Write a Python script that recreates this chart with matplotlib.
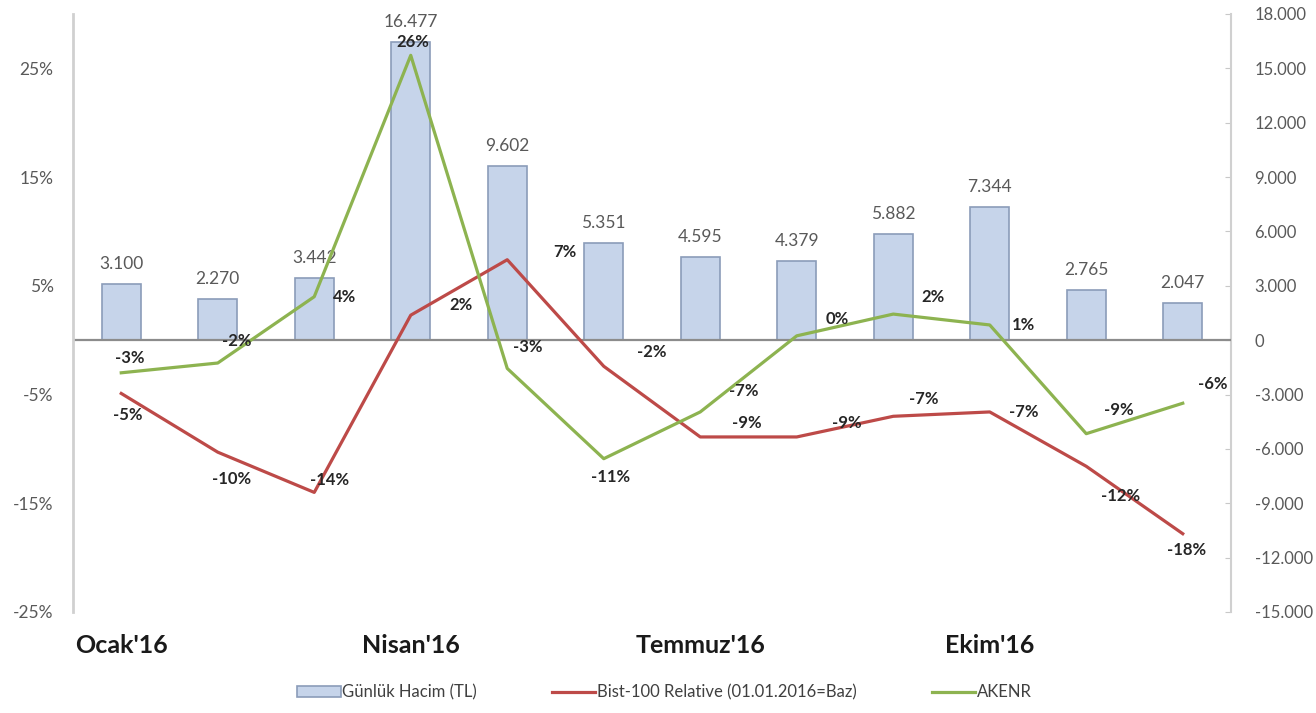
import matplotlib.pyplot as plt
from matplotlib.ticker import FuncFormatter

plt.rcParams['font.family'] = ['Lato', 'DejaVu Sans']

months = ['Ocak', 'Şubat', 'Mart', 'Nisan', 'Mayıs', 'Haziran',
          'Temmuz', 'Ağustos', 'Eylül', 'Ekim', 'Kasım', 'Aralık']
month_ticks = [0, 3, 6, 9]
month_tick_labels = ["Ocak'16", "Nisan'16", "Temmuz'16", "Ekim'16"]

volume = [3100, 2270, 3442, 16477, 9602, 5351, 4595, 4379, 5882, 7344, 2765, 2047]
bist_rel = [-4.9, -10.3, -14.0, 2.3, 7.4, -2.4, -8.9, -8.9, -7.0, -6.6, -11.6, -17.8]
akenr = [-3.0, -2.1, 4.0, 26.2, -2.6, -10.9, -6.6, 0.4, 2.4, 1.4, -8.6, -5.8]

pct_ticks = [25, 15, 5, -5, -15, -25]
vol_ticks = list(range(-15000, 18001, 3000))

# label offsets in pixels (dx, dy up)
akenr_off = [(8, 15), (19, 22), (30, 0), (2, 13), (21, 21), (7, -18),
             (43, 21), (41, 17), (40, 17), (34, 0), (33, 24), (30, 19)]
bist_off = [(7, -22), (14, -27), (15, 12), (50, 10), (58, 8), (48, 14),
            (47, 14), (50, 14), (30, 17), (34, 0), (34, -30), (4, -16)]

bar_face = '#c6d4ea'
bar_edge = '#8b9cb9'
red = '#bd4a48'
green = '#8db350'
grey_txt = '#595959'

fig = plt.figure(figsize=(13.16, 7.13), dpi=100)
ax = fig.add_axes([73/1316, 101/713, 1158/1316, 598/713])
ax2 = ax.twinx()
x = range(len(months))

# bars (right axis)
ax.bar(x, volume, width=0.4, color=bar_face, edgecolor=bar_edge, linewidth=1.2,
       label='Günlük Hacim (TL)', zorder=2)
for i, v in enumerate(volume):
    ax.annotate(f'{v:,}'.replace(',', '.'), (i, v), xytext=(0, 20), textcoords='offset pixels',
                ha='center', va='center', fontsize=12.5, color=grey_txt)
ax.axhline(0, color='#8c8c8c', linewidth=1.6, zorder=3)
ax.set_ylim(-15000, 18000)
ax.set_xlim(-0.5, 11.5)
ax.yaxis.tick_right()
ax.set_yticks(vol_ticks)
ax.yaxis.set_major_formatter(FuncFormatter(lambda v, p: f'{int(v):,}'.replace(',', '.')))
ax.tick_params(axis='y', direction='in', length=4, color='#c8c8c8', labelsize=12,
               labelcolor=grey_txt, pad=17)
ax.set_xticks(month_ticks)
ax.set_xticklabels(month_tick_labels, fontsize=18, fontweight='bold', color='#1a1a1a')
ax.tick_params(axis='x', length=0, pad=16)
for s in ['top', 'bottom', 'left']:
    ax.spines[s].set_visible(False)
ax.spines['right'].set_color('#d0d0d0')
ax.spines['right'].set_linewidth(1.5)

# lines (left axis)
ax2.yaxis.tick_left()
ax2.plot(x, bist_rel, color=red, linewidth=2.3, label='Bist-100 Relative (01.01.2016=Baz)')
ax2.plot(x, akenr, color=green, linewidth=2.3, label='AKENR')
for i in x:
    ax2.annotate(f'{bist_rel[i]:.0f}%', (i, bist_rel[i]), xytext=bist_off[i], textcoords='offset pixels',
                 ha='center', va='center', fontsize=12, fontweight='bold', color='#262626')
    ax2.annotate(f'{akenr[i]:.0f}%', (i, akenr[i]), xytext=akenr_off[i], textcoords='offset pixels',
                 ha='center', va='center', fontsize=12, fontweight='bold', color='#262626')
ax2.set_ylim(-25, 30)
ax2.set_yticks(pct_ticks)
ax2.set_yticklabels([f'{t}%' for t in pct_ticks])
ax2.tick_params(axis='y', length=0, labelsize=12.5, labelcolor=grey_txt, pad=14)
for s in ['top', 'bottom', 'right']:
    ax2.spines[s].set_visible(False)
ax2.spines['left'].set_color('#d0d0d0')
ax2.spines['left'].set_linewidth(2)

h1, l1 = ax.get_legend_handles_labels()
h2, l2 = ax2.get_legend_handles_labels()
fig.legend(h1 + h2, l1 + l2, loc='center', bbox_to_anchor=(0.505, 0.029), ncol=3, frameon=False,
           fontsize=12, labelcolor='#404040', handlelength=2.6, handletextpad=0.1, columnspacing=4.5)

fig.savefig('out.png', dpi=100)
